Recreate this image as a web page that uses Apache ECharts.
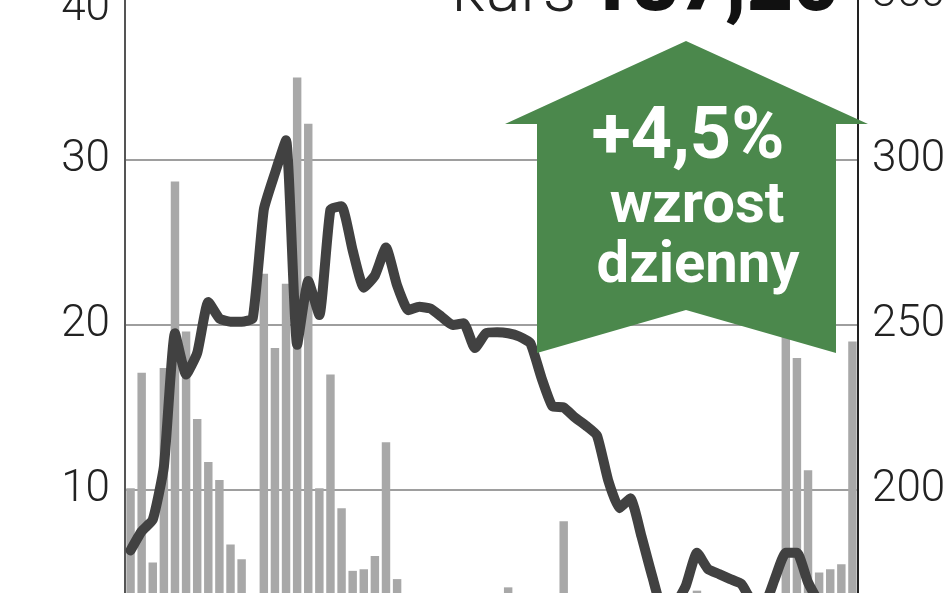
<!DOCTYPE html>
<html>
<head>
<meta charset="utf-8">
<script src="https://cdn.jsdelivr.net/npm/echarts@6/dist/echarts.min.js"></script>
<style>
html,body{margin:0;padding:0;background:#fff;}
#chart{width:948px;height:593px;}
</style>
</head>
<body>
<div id="chart"></div>
<script>
// ---- data ----
var days = [];
for (var d = 1; d <= 66; d++) days.push('d' + d);

// volume (left axis, 0-40)
var volume = [10.1, 17.1, 5.6, 17.4, 28.7, 19.6, 14.3, 11.7, 10.6, 6.7,
  5.8, 1.5, 23.1, 18.6, 22.5, 35.0, 32.2, 10.1, 17.0, 8.9,
  5.1, 5.2, 6.0, 12.9, 4.6, 2.5, 2.0, 3.0, 2.2, 1.8,
  2.6, 2.0, 3.0, 2.4, 4.1, 2.2, 1.8, 2.5, 2.0, 8.1,
  2.6, 2.0, 3.0, 2.2, 2.8, 2.0, 1.6, 2.4, 3.0, 2.2,
  2.6, 3.9, 2.0, 2.4, 1.8, 2.6, 2.2, 3.0, 2.5, 20.0,
  18.0, 11.2, 5.0, 5.2, 5.5, 19.0];

// price (right axis, 150-350)
var price = [181.7, 187.5, 191, 207, 247.5, 235, 241.5, 257, 252, 251,
  251, 252, 285, 296, 306, 244, 263.3, 253, 285, 286,
  272.6, 261.3, 265, 273.5, 262, 254.5, 255.5, 255, 252.5, 250,
  250.5, 243, 247.5, 247.8, 247.5, 246.5, 244.5, 234, 225.3, 225,
  222, 219.5, 216.5, 203, 194.5, 197.5, 186, 173.5, 163, 165,
  171, 181, 176, 174.5, 173, 171.5, 166, 165, 173, 181,
  181, 172, 166, 164, 165, 167];

var leftTicks = [0, 40, 10];     // min, max, interval
var rightTicks = [150, 350, 50]; // min, max, interval

var kursLabel = 'kurs';
var kursValue = '187,20';
var changeLabel = '+4,5%';
var changeText1 = 'wzrost';
var changeText2 = 'dzienny';

// ---- chart ----
var chart = echarts.init(document.getElementById('chart'), null, {renderer: 'canvas'});

chart.setOption({
  animation: false,
  grid: {left: 125, right: 90, top: -5, height: 660, containLabel: false, outerBoundsMode: 'none'},
  xAxis: {
    type: 'category', data: days, boundaryGap: true,
    axisLine: {show: false}, axisTick: {show: false}, axisLabel: {show: false}, splitLine: {show: false}
  },
  yAxis: [
    {
      type: 'value', min: leftTicks[0], max: leftTicks[1], interval: leftTicks[2], position: 'left',
      axisLine: {show: true, lineStyle: {color: '#555', width: 2}},
      axisTick: {show: false},
      splitLine: {show: true, lineStyle: {color: '#9e9e9e', width: 2}},
      axisLabel: {
        margin: 15, showMaxLabel: false,
        fontFamily: 'Roboto', fontWeight: 300, fontSize: 44, color: '#222'
      }
    },
    {
      type: 'value', min: rightTicks[0], max: rightTicks[1], interval: rightTicks[2], position: 'right',
      axisLine: {show: true, lineStyle: {color: '#222', width: 2}},
      axisTick: {show: false},
      splitLine: {show: false},
      axisLabel: {
        margin: 14,
        fontFamily: 'Roboto', fontWeight: 300, fontSize: 44, color: '#222'
      }
    }
  ],
  series: [
    {
      type: 'bar', yAxisIndex: 0, data: volume, barWidth: '76%',
      itemStyle: {color: '#a8a8a8'}, z: 2
    },
    {
      type: 'line', yAxisIndex: 1, data: price, symbol: 'none', smooth: 0.15,
      lineStyle: {color: '#414141', width: 10, cap: 'round', join: 'round'}, z: 3
    }
  ],
  graphic: [
    {
      type: 'text', z: 50, x: 110, y: 9,
      style: {text: String(leftTicks[1]), fill: '#222', font: '300 44px Roboto', align: 'right', verticalAlign: 'middle'}
    },
    {
      type: 'polygon', z: 100,
      shape: {points: [[686, 41], [868, 124], [836, 124], [836, 353], [686, 310], [537, 353], [537, 124], [505, 124]]},
      style: {fill: '#4b884c'}
    },
    {
      type: 'text', z: 101, x: 688, y: 104,
      style: {text: changeLabel, fill: '#fff', font: 'bold 72px Roboto', align: 'center', verticalAlign: 'top'}
    },
    {
      type: 'text', z: 101, x: 697, y: 178,
      style: {text: changeText1, fill: '#fff', font: 'bold 58px Roboto', align: 'center', verticalAlign: 'top'}
    },
    {
      type: 'text', z: 101, x: 698, y: 238,
      style: {text: changeText2, fill: '#fff', font: 'bold 58px Roboto', align: 'center', verticalAlign: 'top'}
    },
    {
      type: 'text', z: 101, x: 452, y: -39,
      style: {text: kursLabel, fill: '#222', font: '300 66px Roboto', align: 'left', verticalAlign: 'top'}
    },
    {
      type: 'text', z: 101, x: 586, y: -50,
      style: {text: kursValue, fill: '#111', font: '900 80px Roboto', align: 'left', verticalAlign: 'top'}
    }
  ]
});
</script>
</body>
</html>
